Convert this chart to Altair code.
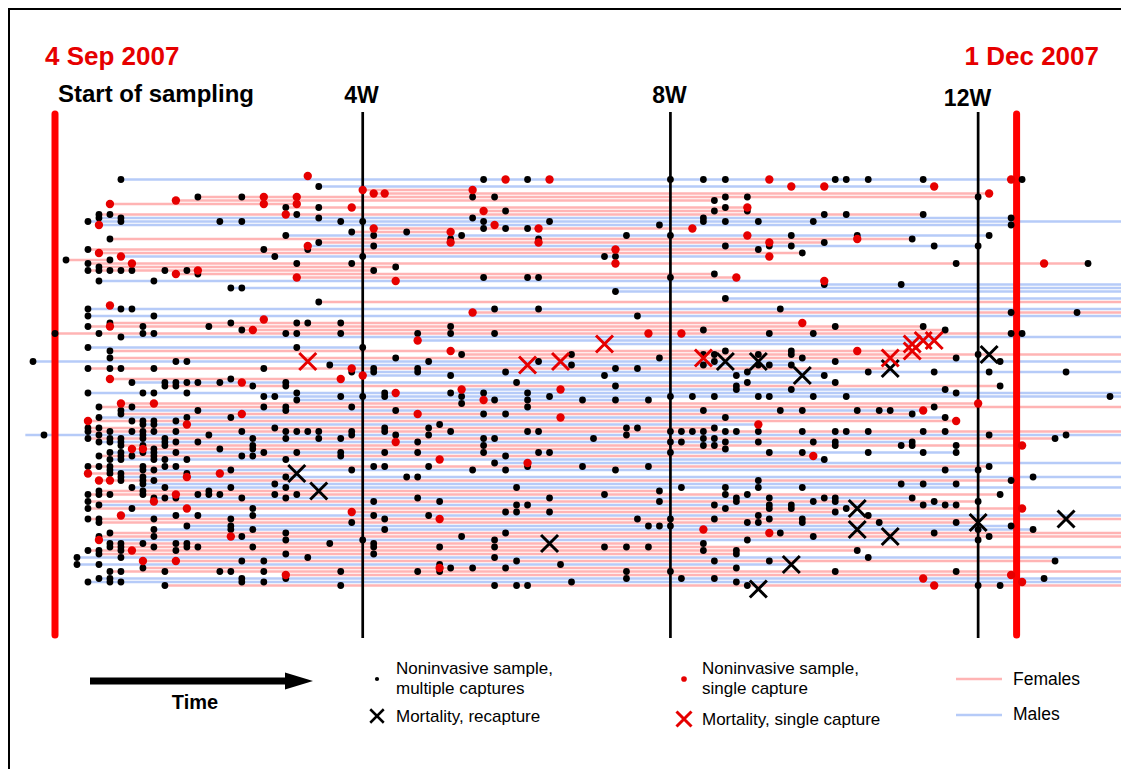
import altair as alt
import pandas as pd

# ------------------------------------------------------------------ data
# day 0 = 4 Sep 2007 (start of sampling); rows = individuals (top to bottom)
start_label = "4 Sep 2007"
end_label = "1 Dec 2007"
season_days = [0, 87.5]          # start / end of sampling
week_days = [28, 56, 84]
week_labels = ["4W", "8W", "12W"]

row_sex = ("MMMMFFFFFF" "FFMMMFFMFF" "MFFMFFFFFF" "MMMMMMFFMF" "MFFFFFMMMM"
           "FFFMMFMMFM" "FMMMMFFMFM" "FMFFMFMFFM" "FMMFMFMFMM" "FFMFMFFMFF"
           "MMFFMFFFFM" "FMFFFMMFM")

# noninvasive samples, individuals with multiple captures: row -> days
black_dots = {
    1: [6, 39, 43, 45, 56, 59, 61, 71, 72, 74, 79, 88], 3: [24],
    6: [13, 17, 38, 40, 61, 63, 84], 7: [60], 9: [21, 24, 61], 10: [41, 60, 63],
    11: [4, 5, 22, 70, 72, 79], 12: [4, 6, 24, 38, 59, 87],
    13: [3, 6, 15, 17, 26, 28, 39, 45, 59, 61, 64, 69], 14: [55, 87],
    15: [39, 41, 43], 16: [27, 32], 17: [21, 29, 37, 52, 56, 67, 73, 85],
    18: [5, 36, 44, 78], 19: [24, 70], 20: [29, 61, 65, 67, 80, 84],
    21: [3, 19, 23, 64], 22: [68], 23: [20, 28, 50, 51], 24: [1, 5],
    25: [3, 22, 27, 82, 94], 26: [4, 31], 27: [3, 4, 5, 6, 7, 10, 12, 29],
    28: [13, 60], 29: [39, 43, 44, 56], 30: [4, 9], 31: [70, 77], 32: [16, 17],
    33: [51], 35: [61], 36: [24], 38: [3, 6, 7, 40, 44, 66], 39: [87, 93],
    40: [3, 9, 53], 42: [5, 16, 22, 23, 26], 43: [3, 8, 14, 36, 71, 79],
    44: [17, 59, 81], 45: [0, 4, 8, 9, 21, 22, 26, 33, 36, 40, 65, 69, 87, 88],
    46: [6], 49: [3, 22, 28], 50: [5, 61, 67], 51: [37, 47, 59, 60, 64, 67, 84],
    52: [5, 31, 55, 68, 82], 53: [-2, 11, 12, 34, 44, 60, 71, 86],
    54: [25, 47, 59, 64, 65, 67], 55: [3, 5, 6, 9, 19, 29, 33, 51, 53],
    56: [27, 29, 33, 41, 63, 74, 80, 85, 92], 57: [36, 50, 62, 70], 58: [16],
    59: [7, 10, 11, 12, 13, 15, 21, 42, 63, 71], 60: [10, 11, 18, 21, 51, 62, 86],
    61: [62, 67, 81], 62: [3, 8, 9, 12, 22, 30, 36, 39, 43, 82],
    63: [19, 20, 26, 28, 30, 37, 45, 56, 58, 60, 64, 65, 69, 72, 96],
    64: [22, 40, 43, 48, 51, 54], 65: [37], 66: [4, 7, 19, 21, 27, 43, 80],
    67: [6, 13, 21, 31, 59, 66, 68, 73, 75, 76], 68: [6, 39, 41, 78],
    69: [4, 12, 16, 61, 81], 70: [7, 8, 9, 11], 71: [8, 9, 35],
    72: [3, 4, 20, 30, 34, 52, 53, 60],
    73: [3, 5, 7, 8, 9, 11, 17, 21, 22, 23, 24, 27, 30, 36, 43, 44, 56, 57, 58,
         59, 61, 62, 64, 68, 71, 72, 74, 79, 81],
    74: [-1, 4, 8, 14, 27, 31, 34, 52, 85, 92],
    75: [3, 5, 6, 8, 10, 18, 21, 24, 26, 39, 40, 49, 59, 60, 91],
    76: [4, 5, 6, 10, 11, 13, 33, 56, 57, 61, 64, 69, 71, 78],
    77: [6, 8, 10, 18, 39, 59, 60, 71, 77, 78, 82], 78: [9, 15, 18, 61],
    79: [5, 6, 8, 9, 11, 19, 22, 26, 30, 33, 39, 44, 45, 56, 65, 68, 74, 79, 82],
    80: [4, 6, 7, 9, 17, 18, 26, 41], 81: [5, 6, 9, 10, 12, 21, 70], 82: [40],
    83: [3, 4, 5, 8, 10, 11, 29, 30, 34, 43, 48, 54, 85],
    84: [5, 8, 9, 16, 27, 38, 41, 51, 81, 84], 85: [5, 6, 12],
    86: [6, 8, 21, 32, 33, 89], 87: [6, 8, 9, 64, 87], 88: [8, 20, 77, 79, 82],
    89: [7, 10, 16, 21, 42, 57, 61, 64, 68], 90: [4, 8, 14, 55],
    91: [3, 4, 5, 8, 13, 14, 15, 20, 22, 50, 61, 63, 86],
    92: [9, 10, 11, 17, 21, 33, 45, 62, 65, 70, 71, 78],
    93: [3, 29, 35, 55, 62, 69, 71, 80, 84], 94: [4, 42, 43, 60, 65, 67, 79, 81, 82],
    95: [3, 7, 18, 61, 65, 67, 72], 96: [41, 42, 45, 71],
    97: [11, 13, 18, 29, 34, 64, 74], 98: [3, 4, 9, 16, 30, 53, 56, 60, 65, 68],
    99: [4, 27, 63, 64, 68, 75, 82], 100: [12, 16, 54, 55, 56, 87],
    101: [9, 16, 18, 30, 84, 89], 102: [5, 21, 41, 66, 80], 103: [4, 9, 17, 37, 69, 85],
    104: [21, 28, 40, 63, 84], 105: [5, 6, 8, 11, 12, 25, 29, 59],
    106: [5, 6, 9, 12, 13, 18, 29, 35, 40, 50, 52, 54], 107: [3, 4, 6, 11, 59, 62, 73],
    108: [4, 21, 29, 62], 109: [2, 6, 23, 40, 74], 110: [17, 19, 42, 60, 65, 91],
    111: [2, 4, 35, 46], 112: [8, 36, 38, 41, 62],
    113: [5, 6, 10, 15, 16, 19, 26, 33, 35, 52, 56, 71, 82],
    115: [4, 5, 17, 21, 52, 57, 60, 90], 116: [3, 5, 6, 17, 19, 47, 62],
    117: [10, 26, 40, 42, 43, 63, 84, 86],
}

# noninvasive samples, individuals with a single capture: row -> days
red_dots = {
    0: [23], 1: [41, 45, 65, 87], 3: [67, 70, 80], 4: [28, 38], 5: [29, 30, 85],
    6: [19, 22], 7: [11], 8: [5, 19, 22], 9: [27, 63], 10: [39], 11: [21],
    14: [4, 40], 15: [29, 44, 58], 16: [36], 17: [63], 18: [73], 19: [36, 44, 65],
    20: [23], 21: [51], 22: [4], 23: [6, 65], 25: [7, 51, 90], 27: [13], 28: [11],
    29: [22, 62], 30: [31, 70], 37: [5], 39: [38], 41: [19], 42: [68], 43: [5],
    44: [18], 45: [54, 57], 47: [33], 50: [36, 73], 55: [27], 57: [28], 58: [5, 26],
    59: [17], 61: [37, 46], 62: [31], 64: [39], 65: [6, 9, 84], 67: [79],
    68: [17, 33], 69: [46], 70: [3, 82], 71: [12, 64], 76: [31], 77: [88],
    78: [7, 8], 80: [69], 81: [35], 82: [43], 85: [3, 15], 86: [12], 87: [4, 5],
    91: [11], 93: [9], 95: [12, 88], 96: [27], 97: [6], 98: [35], 101: [59],
    102: [65], 103: [16], 104: [4], 107: [7], 110: [8, 11], 112: [35],
    114: [21, 87], 115: [79], 116: [88], 117: [80],
}

# mortalities: (row, day)
mort_recapture = [(85, 22), (90, 24), (105, 45), (53, 61), (53, 64), (57, 68),
                  (55, 76), (51, 85), (95, 73), (101, 73), (103, 76), (99, 84),
                  (98, 92), (111, 67), (118, 64)]
mort_single = [(53, 23), (54, 43), (53, 46), (48, 50), (52, 76), (50, 78),
               (48, 78), (47, 79), (47, 80), (52, 59)]

# individuals still detected after the plotted window
beyond_window = [13, 31, 32, 33, 35, 36, 38, 39, 40, 46, 51, 53, 56, 62, 63, 66,
                 73, 74, 82, 86, 89, 97, 98, 102, 103, 106, 109, 113, 115, 116, 117]
first_seen_override = {74: -2.7}

# ------------------------------------------------------------------ styling
W, H = 1113, 761
X_DOM = [-4.277, 97.0]
Y_DOM = [-48.0, 169.43]
FONT = "Liberation Sans"
RED = "#e60000"
LINE_RED = "#ff0000"
PINK = "#ffb4b4"
BLUE = "#b6cbf8"
XPATH = "M-1,-1L1,1M-1,1L1,-1"

xs = alt.Scale(domain=X_DOM, nice=False, zero=False)
ys = alt.Scale(domain=Y_DOM, nice=False, zero=False, reverse=True)

recs = []
for r, ds in black_dots.items():
    recs += [{"row": r, "day": d, "kind": "multi"} for d in ds]
for r, ds in red_dots.items():
    recs += [{"row": r, "day": d, "kind": "single"} for d in ds]
recs += [{"row": r, "day": d, "kind": "mort_re"} for r, d in mort_recapture]
recs += [{"row": r, "day": d, "kind": "mort_single"} for r, d in mort_single]
ev = pd.DataFrame(recs)

g = ev.groupby("row")["day"].agg(["min", "max"]).reset_index()
g["start"] = [first_seen_override.get(r, m) for r, m in zip(g["row"], g["min"])]
g["end"] = [X_DOM[1] if r in beyond_window else m for r, m in zip(g["row"], g["max"])]
g["sex"] = [row_sex[r] for r in g["row"]]
g = g[g["end"] > g["start"]]

def xenc(f):
    return alt.X(f, type="quantitative", scale=xs, axis=None)

def yenc(f):
    return alt.Y(f, type="quantitative", scale=ys, axis=None)

lines = alt.Chart(g).mark_rule(strokeWidth=2.7, clip=True).encode(
    x=xenc("start"), x2="end", y=yenc("row"),
    color=alt.Color("sex:N", scale=alt.Scale(domain=["F", "M"], range=[PINK, BLUE]),
                    legend=None))

season = alt.Chart(pd.DataFrame({"day": season_days})).mark_rule(
    color=LINE_RED, strokeWidth=7, strokeCap="round").encode(
    x=xenc("day"), y=alt.value(106), y2=alt.value(627))
weeks = alt.Chart(pd.DataFrame({"day": week_days, "label": week_labels})).mark_rule(
    color="black", strokeWidth=2.7).encode(
    x=xenc("day"), y=alt.value(104), y2=alt.value(630))

dots_b = alt.Chart(ev[ev.kind == "multi"]).mark_circle(
    size=46, color="black", opacity=1).encode(x=xenc("day"), y=yenc("row"))
dots_r = alt.Chart(ev[ev.kind == "single"]).mark_circle(
    size=70, color=RED, opacity=1).encode(x=xenc("day"), y=yenc("row"))
x_b = alt.Chart(ev[ev.kind == "mort_re"]).mark_point(
    shape=XPATH, size=289, strokeWidth=3, filled=False, opacity=1, color="black"
).encode(x=xenc("day"), y=yenc("row"))
x_r = alt.Chart(ev[ev.kind == "mort_single"]).mark_point(
    shape=XPATH, size=289, strokeWidth=3, filled=False, opacity=1, color=RED
).encode(x=xenc("day"), y=yenc("row"))

one = pd.DataFrame({"a": [0]})

def txt(s, x, y, size, color="black", weight="normal", align="left"):
    return alt.Chart(one).mark_text(
        text=s, fontSize=size, fontWeight=weight, color=color, align=align,
        baseline="alphabetic", font=FONT).encode(x=alt.value(x), y=alt.value(y))

texts = [
    txt(start_label, 37, 57, 26, RED, "bold"),
    txt(end_label, 1091, 57, 26, RED, "bold", "right"),
    txt("Start of sampling", 50, 94, 24, "black", "bold"),
    txt(week_labels[0], 353.5, 95, 23, "black", "bold", "center"),
    txt(week_labels[1], 661.5, 94.5, 23, "black", "bold", "center"),
    txt(week_labels[2], 959.5, 98, 23, "black", "bold", "center"),
    # legend texts
    txt("Time", 187, 701, 20, "black", "bold", "center"),
    txt("Noninvasive sample,", 388, 666, 17),
    txt("multiple captures", 388, 686, 17),
    txt("Mortality, recapture", 388, 714, 17),
    txt("Noninvasive sample,", 694, 666, 17),
    txt("single capture", 694, 686, 17),
    txt("Mortality, single capture", 694, 717, 17),
    txt("Females", 1005, 677, 17.5),
    txt("Males", 1005, 712, 17.5),
]

legend = [
    alt.Chart(one).mark_rule(color="black", strokeWidth=7).encode(
        x=alt.value(82), x2=alt.value(292), y=alt.value(673)),
    alt.Chart(one).mark_point(shape="M-1,-0.6L1,0L-1,0.6Z", size=784, filled=True,
                              opacity=1, color="black").encode(
        x=alt.value(291), y=alt.value(673)),
    alt.Chart(one).mark_circle(size=18, color="black", opacity=1).encode(
        x=alt.value(369), y=alt.value(671)),
    alt.Chart(one).mark_point(shape=XPATH, size=182, strokeWidth=2.5, filled=False,
                              opacity=1, color="black").encode(
        x=alt.value(369), y=alt.value(708)),
    alt.Chart(one).mark_circle(size=32, color=RED, opacity=1).encode(
        x=alt.value(676), y=alt.value(671)),
    alt.Chart(one).mark_point(shape=XPATH, size=225, strokeWidth=3, filled=False,
                              opacity=1, color=RED).encode(
        x=alt.value(676), y=alt.value(711)),
    alt.Chart(one).mark_rule(color=PINK, strokeWidth=2.4).encode(
        x=alt.value(948), x2=alt.value(994), y=alt.value(671)),
    alt.Chart(one).mark_rule(color=BLUE, strokeWidth=2.4).encode(
        x=alt.value(948), x2=alt.value(994), y=alt.value(707)),
]

frame = [
    alt.Chart(one).mark_rule(color="black", strokeWidth=2).encode(
        x=alt.value(0), x2=alt.value(W), y=alt.value(1)),
    alt.Chart(one).mark_rule(color="black", strokeWidth=2).encode(
        x=alt.value(1), y=alt.value(0), y2=alt.value(H)),
]

chart = alt.layer(lines, season, weeks, dots_b, dots_r, x_b, x_r,
                  *texts, *legend, *frame).properties(
    width=W, height=H, padding=0,
    autosize=alt.AutoSizeParams(type="none"), background="white",
).configure_view(stroke=None)

chart.save("out.html", embed_options={"renderer": "svg", "actions": False})
